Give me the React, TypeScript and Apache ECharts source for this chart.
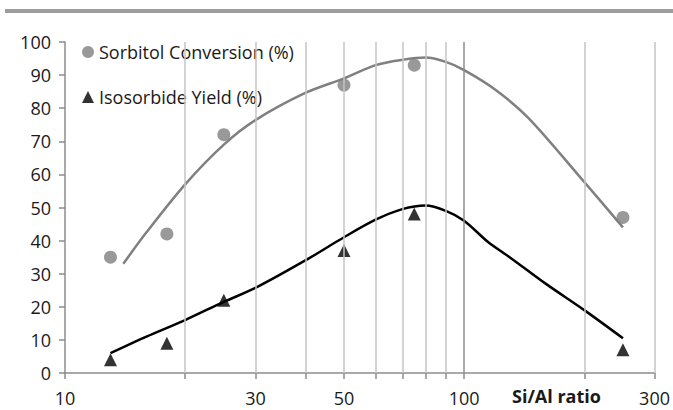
import React, { useEffect, useRef } from "react";
import * as echarts from "echarts";

const ratioX = [13, 18, 25, 50, 75, 250];
const sorbitolConv = [35, 42, 72, 87, 93, 47];
const isosorbideYield = [4, 9, 22, 37, 48, 7];

const sorbitolTrend: [number, number][] = [
  [14, 33], [16, 42.5], [20, 57], [25, 69], [30, 76.4], [40, 84.6], [50, 89], [60, 93],
  [70, 94.6], [80, 95.3], [90, 94], [100, 91.5], [120, 85.5], [145, 77], [200, 57.7], [250, 44],
];
const isosorbideTrend: [number, number][] = [
  [13, 6], [16, 11], [20, 16], [25, 21.5], [30, 25.7], [40, 34], [50, 41], [60, 46.3],
  [70, 49.5], [80, 50.6], [90, 49], [100, 46], [115, 39.5], [130, 35], [160, 27], [200, 19], [250, 10.5],
];

const xTickLabels = [10, 30, 50, 100, 300];
const xGridValues = [20, 30, 40, 50, 60, 70, 80, 90, 100, 200, 300];
const xTickValues = [10, 20, 30, 40, 50, 60, 70, 80, 90, 100, 200, 300];

const FONT = "'Open Sans', 'Noto Sans', sans-serif";

export default function App() {
  const ref = useRef<HTMLDivElement>(null);
  useEffect(() => {
    const chart = echarts.init(ref.current!, null, { renderer: "svg" });
    chart.setOption({
      animation: false,
      backgroundColor: "#ffffff",
      textStyle: { fontFamily: FONT },
      grid: { left: 65, right: 17, top: 42, bottom: 37, containLabel: false },
      legend: {
        data: ["Sorbitol Conversion (%)", "Isosorbide Yield (%)"],
        orient: "vertical",
        left: 77,
        top: 38,
        itemWidth: 12,
        itemHeight: 12,
        itemGap: 27,
        textStyle: { fontFamily: FONT, fontSize: 18, color: "#1a1a1a" },
      },
      xAxis: {
        type: "log",
        logBase: 10,
        min: 10,
        max: 300,
        axisLine: { show: true, lineStyle: { color: "#8c8c8c", width: 1.5 } },
        axisTick: { show: true, inside: false, length: 6, customValues: xTickValues, lineStyle: { color: "#8c8c8c", width: 1.5 } },
        axisLabel: { show: true, customValues: xTickLabels, margin: 16, fontSize: 18, color: "#1a1a1a", fontFamily: FONT },
        splitLine: { show: false },
        minorTick: { show: false },
      },
      yAxis: {
        type: "value",
        min: 0,
        max: 100,
        interval: 10,
        axisLine: { show: true, lineStyle: { color: "#8c8c8c", width: 1.5 } },
        axisTick: { show: true, inside: false, length: 6, lineStyle: { color: "#8c8c8c", width: 1.5 } },
        axisLabel: { margin: 14, fontSize: 18, color: "#1a1a1a", fontFamily: FONT },
        splitLine: { show: false },
      },
      graphic: [
        { type: "rect", left: 5, top: 9, shape: { width: 668, height: 4 }, style: { fill: "#9d9d9d" } },
        {
          type: "text",
          left: 512,
          top: 387,
          style: { text: "Si/Al ratio", font: `bold 18px ${FONT}`, fill: "#1a1a1a" },
        },
      ],
      series: [
        {
          name: "grid",
          type: "line",
          data: [],
          z: 1,
          silent: true,
          markLine: {
            silent: true,
            symbol: "none",
            label: { show: false },
            lineStyle: { color: "#c4c4c4", width: 1.5, type: "solid" },
            data: xGridValues.map((v) =>
              v === 100 ? { xAxis: v, lineStyle: { color: "#8c8c8c", width: 1.5, type: "solid" } } : { xAxis: v }
            ),
          },
        },
        {
          name: "sorbitolTrend",
          type: "line",
          data: sorbitolTrend,
          smooth: 0.3,
          showSymbol: false,
          symbol: "none",
          z: 3,
          lineStyle: { color: "#808080", width: 2.5 },
        },
        {
          name: "isosorbideTrend",
          type: "line",
          data: isosorbideTrend,
          smooth: 0.3,
          showSymbol: false,
          symbol: "none",
          z: 3,
          lineStyle: { color: "#000000", width: 2.5 },
        },
        {
          name: "Sorbitol Conversion (%)",
          type: "scatter",
          data: ratioX.map((x, i) => [x, sorbitolConv[i]]),
          symbol: "circle",
          symbolSize: 13,
          z: 4,
          itemStyle: { color: "#808080" },
        },
        {
          name: "Isosorbide Yield (%)",
          type: "scatter",
          data: ratioX.map((x, i) => [x, isosorbideYield[i]]),
          symbol: "triangle",
          symbolSize: 13,
          z: 4,
          itemStyle: { color: "#000000" },
        },
      ],
    });
    return () => chart.dispose();
  }, []);
  return <div ref={ref} style={{ width: 673, height: 410, position: "absolute", left: 0, top: 0 }} />;
}
